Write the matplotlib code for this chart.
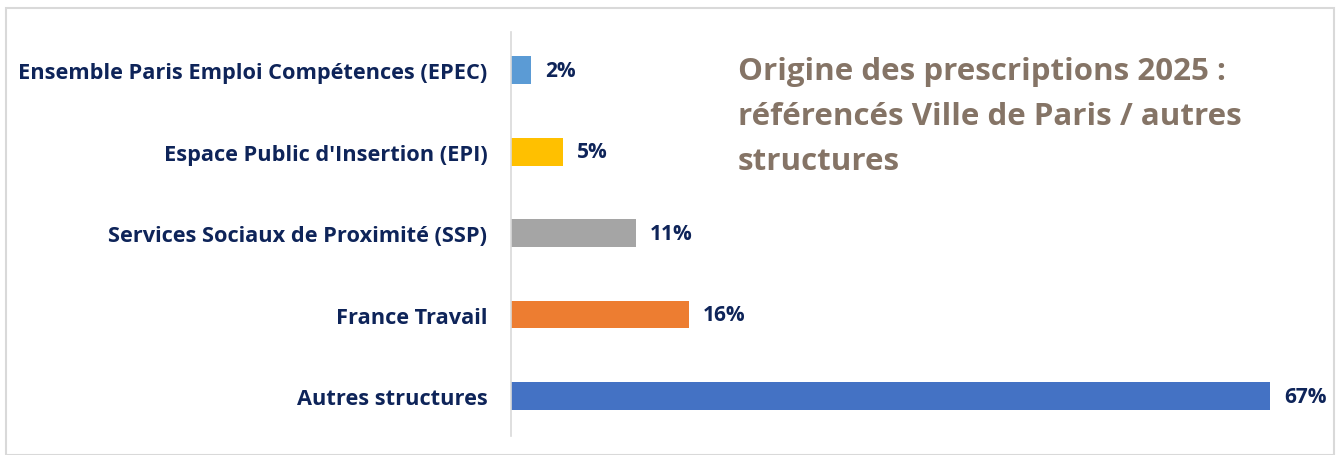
import matplotlib
matplotlib.use("Agg")
import matplotlib.pyplot as plt
from matplotlib.patches import Rectangle

categories = ["Ensemble Paris Emploi Compétences (EPEC)",
              "Espace Public d'Insertion (EPI)",
              "Services Sociaux de Proximité (SSP)",
              "France Travail",
              "Autres structures"]
values = [1.8, 4.6, 11.0, 15.7, 67.0]
bar_colors = ["#5B9BD5", "#FFC000", "#A5A5A5", "#ED7D31", "#4472C4"]
title = "Origine des prescriptions 2025 :\nréférencés Ville de Paris / autres\nstructures"

plt.rcParams['font.family'] = ['Open Sans', 'DejaVu Sans']
navy = "#0E2459"

W, H = 1341, 456
fig = plt.figure(figsize=(W/100, H/100), dpi=100)
fig.patches.append(Rectangle((6/W, 0), (1334-6)/W, 1-9/H, transform=fig.transFigure,
                             fill=False, edgecolor="#D9D9D9", linewidth=1.5))

ax = fig.add_axes([511/W, 1-437/H, (1330-511)/W, (437-33)/H])
n = len(categories)
ypos = list(range(n))[::-1]
ax.barh(ypos, values, height=0.34, color=bar_colors)
ax.set_xlim(0, 72.3)
ax.set_ylim(-0.49, 4.47)
ax.set_yticks(ypos)
ax.set_yticklabels(categories, fontsize=15.7, fontweight='bold', color=navy)
ax.tick_params(axis='y', length=0, pad=17)
ax.set_xticks([])
for s in ["top", "right", "bottom"]:
    ax.spines[s].set_visible(False)
ax.spines["left"].set_color("#D9D9D9")
ax.spines["left"].set_linewidth(1.2)

for y, v in zip(ypos, values):
    ax.annotate(f"{v:.0f}%", (v, y), xytext=(10, 0), textcoords="offset points",
                ha="left", va="center", fontsize=15, fontweight="bold", color=navy)

fig.text(738/W, 1-57/H, title, ha="left", va="top", fontsize=22.5, fontweight="bold",
         color="#857466", linespacing=1.66)

fig.savefig("out.png", dpi=100)
